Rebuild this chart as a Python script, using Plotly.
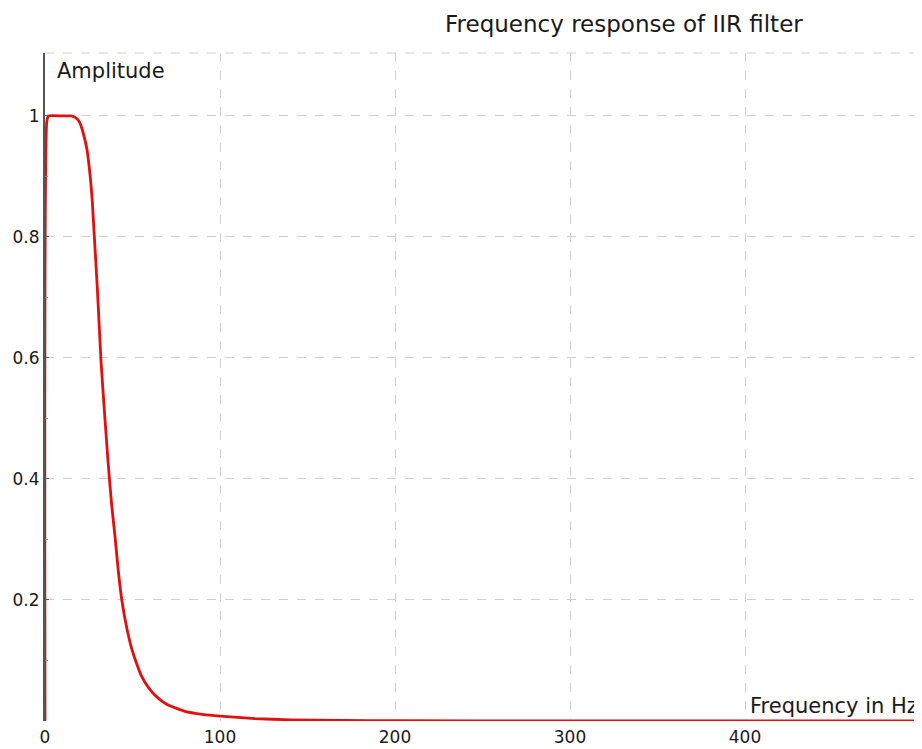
import plotly.graph_objects as go

freq_hz = [0, 1, 2, 10, 15, 17, 19, 20, 22, 24, 26, 27, 28, 30, 32, 34, 36, 38, 40, 42,
           44, 47, 50, 55, 60, 65, 70, 80, 90, 100, 120, 140, 170, 200, 300, 400, 500]
amplitude = [0, 0.99, 1.0, 1.0, 1.0, 0.998, 0.993, 0.988, 0.97, 0.944, 0.895, 0.86, 0.81,
             0.71, 0.595, 0.51, 0.43, 0.36, 0.305, 0.245, 0.198, 0.15, 0.115, 0.075, 0.052,
             0.037, 0.027, 0.016, 0.011, 0.008, 0.004, 0.002, 0.001, 0.0005, 0.0001, 0, 0]

y_ticks = [0, 0.2, 0.4, 0.6, 0.8, 1.0]
y_tick_text = ["", "0.2", "0.4", "0.6", "0.8", "1"]
x_ticks = [0, 100, 200, 300, 400]
x_tick_text = ["0", "100", "200", "300", "400"]

FONT = "DejaVu Sans"
GRID = "#cfcfcf"
TXT = "#1a1a1a"

fig = go.Figure()
fig.add_trace(go.Scatter(x=freq_hz, y=amplitude, mode="lines",
                         line=dict(color="#e01010", width=2.8, shape="spline", smoothing=0.5),
                         hoverinfo="x+y"))

# the page body has an 8px default margin, so the figure is sized / offset to compensate
fig.update_layout(
    width=914, height=741,
    margin=dict(l=37, r=2, t=45, b=28),
    paper_bgcolor="white", plot_bgcolor="white",
    showlegend=False,
    font=dict(family=FONT, size=17, color=TXT),
    xaxis=dict(range=[0, 500], tickvals=x_ticks, ticktext=x_tick_text, automargin=False,
               showgrid=True, gridcolor=GRID, griddash="dash", gridwidth=1,
               zeroline=False, showline=False, ticks="", ticklabelstandoff=4,
               tickfont=dict(family=FONT, size=17, color=TXT)),
    yaxis=dict(range=[0, 1.104], tickvals=y_ticks, ticktext=y_tick_text, automargin=False,
               showgrid=True, gridcolor=GRID, griddash="dash", gridwidth=1,
               zeroline=False, showline=True, linecolor="#555", linewidth=2,
               ticks="inside", ticklen=4, tickcolor="#555", ticklabelstandoff=0,
               minor=dict(tickvals=[0.1, 0.3, 0.5, 0.7, 0.9], ticks="inside", ticklen=3,
                          tickcolor="#888", showgrid=False),
               tickfont=dict(family=FONT, size=17, color=TXT)),
    shapes=[dict(type="line", xref="paper", yref="paper", x0=0, x1=1, y0=1, y1=1,
                 line=dict(color=GRID, width=1, dash="dash"), layer="above")],
    annotations=[
        dict(text="Frequency response of IIR filter", xref="paper", yref="paper",
             x=0.662, y=1.0, yshift=29, xanchor="center", yanchor="middle", showarrow=False,
             font=dict(family=FONT, size=23, color=TXT)),
        dict(text="Amplitude", xref="paper", yref="paper", x=0, xshift=10, y=1.0, yshift=-18,
             xanchor="left", yanchor="middle", showarrow=False,
             font=dict(family=FONT, size=21, color=TXT)),
        dict(text="Frequency in Hz", xref="paper", yref="paper", x=1, y=0, yshift=15,
             xanchor="right", yanchor="middle", showarrow=False,
             font=dict(family=FONT, size=21, color=TXT)),
    ],
)

fig.write_html("out.html")
